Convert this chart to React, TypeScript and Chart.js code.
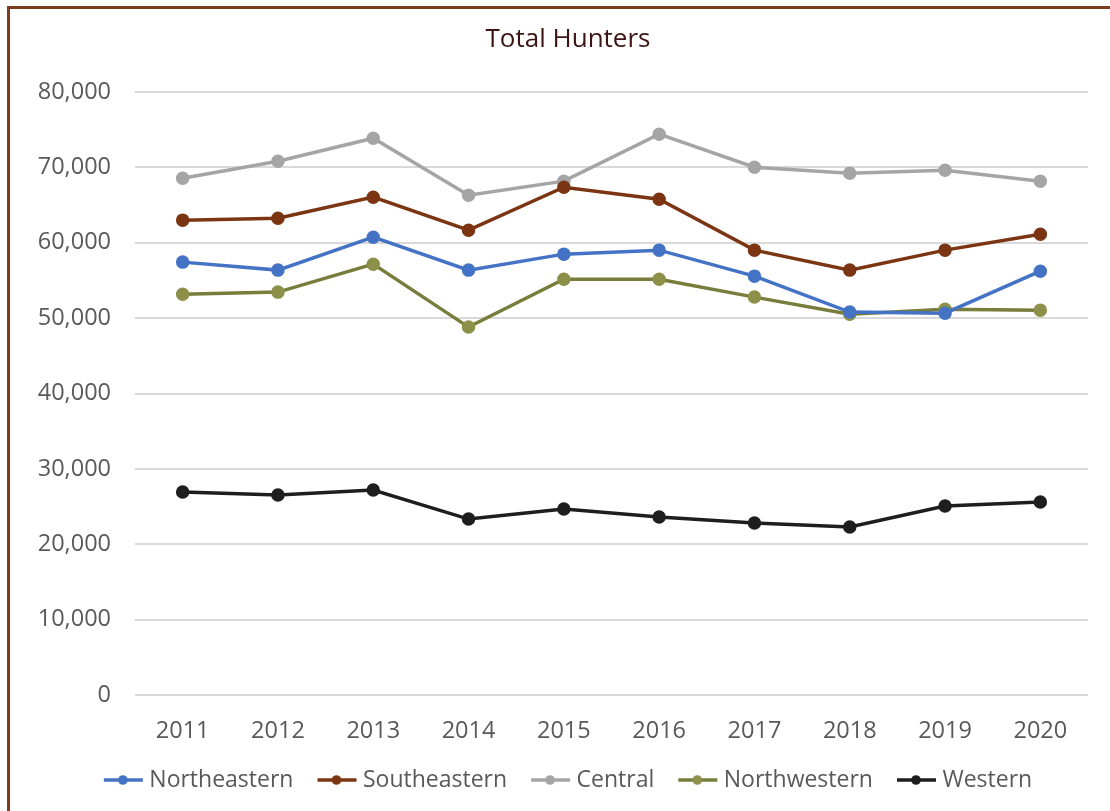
import React, { useEffect, useRef } from "react";
import { Chart, registerables } from "chart.js";

Chart.register(...registerables);

const years = ["2011", "2012", "2013", "2014", "2015", "2016", "2017", "2018", "2019", "2020"];
const northeastern = [57430, 56370, 60740, 56370, 58490, 59020, 55570, 50800, 50660, 56230];
const southeastern = [63000, 63260, 66050, 61670, 67370, 65780, 59020, 56370, 59020, 61140];
const central = [68570, 70820, 73870, 66310, 68170, 74400, 70030, 69230, 69630, 68170];
const northwestern = [53180, 53450, 57160, 48810, 55170, 55170, 52790, 50530, 51190, 51060];
const western = [26920, 26530, 27190, 23340, 24670, 23610, 22810, 22280, 25070, 25600];

const seriesNames = ["Northeastern", "Southeastern", "Central", "Northwestern", "Western"];
const seriesColors = ["#4472C4", "#7B3512", "#A5A5A5", "#787D3C", "#1E1E1E"];
const markerColors = ["#4472C4", "#7B3512", "#A5A5A5", "#8C9049", "#1E1E1E"];
const titleText = "Total Hunters";

const LEGEND_FONT = 23;
const LEGEND_PAD = 28;

function makeLegendMarker(line: string, dot: string): HTMLCanvasElement {
  const c = document.createElement("canvas");
  c.width = 44;
  c.height = 12;
  const ctx = c.getContext("2d")!;
  ctx.strokeStyle = line;
  ctx.lineWidth = 3.5;
  ctx.beginPath();
  ctx.moveTo(3, 6);
  ctx.lineTo(42, 6);
  ctx.stroke();
  ctx.fillStyle = dot;
  ctx.beginPath();
  ctx.arc(22, 6, 4.8, 0, Math.PI * 2);
  ctx.fill();
  return c;
}

const titlePlugin = {
  id: "customTitle",
  afterLayout(chart: any) {
    const lg = chart.legend;
    if (lg) {
      lg.left = 52;
      lg.right = 1088;
      lg.top = 780 - LEGEND_PAD - LEGEND_FONT / 2;
    }
  },
  afterDraw(chart: any) {
    const ctx = chart.ctx;
    ctx.save();
    ctx.font = "26px 'Open Sans'";
    ctx.fillStyle = "#3D1414";
    ctx.textAlign = "center";
    ctx.textBaseline = "middle";
    ctx.fillText(titleText, 568, 40);
    ctx.restore();
  },
};

export default function App() {
  const ref = useRef<HTMLCanvasElement | null>(null);
  useEffect(() => {
    if (!ref.current) return;
    const data = [northeastern, southeastern, central, northwestern, western];
    const markers = seriesColors.map((c, i) => makeLegendMarker(c, markerColors[i]));
    const chart = new Chart(ref.current, {
      type: "line",
      data: {
        labels: years,
        datasets: data.map((d, i) => ({
          label: seriesNames[i],
          data: d,
          borderColor: seriesColors[i],
          backgroundColor: markerColors[i],
          pointBackgroundColor: markerColors[i],
          pointBorderColor: markerColors[i],
          borderWidth: 3.5,
          pointRadius: 5,
          pointHoverRadius: 5,
          tension: 0,
        })),
      },
      options: {
        animation: false,
        responsive: false,
        maintainAspectRatio: false,
        layout: { padding: { left: 0, right: 22, top: 92, bottom: 5 } },
        scales: {
          x: {
            offset: true,
            grid: { display: false, drawTicks: false },
            border: { display: false },
            ticks: { color: "#595959", font: { family: "'Open Sans'", size: 23.5 }, padding: 22 },
            afterFit(scale: any) {
              scale.height = 50;
            },
          },
          y: {
            min: 0,
            max: 80000,
            grid: { color: "#D9D9D9", lineWidth: 2, drawTicks: false },
            border: { display: false },
            ticks: {
              stepSize: 10000,
              color: "#595959",
              font: { family: "'Open Sans'", size: 23.5 },
              padding: 24,
              callback: (v: any) => Number(v).toLocaleString("en-US"),
            },
            afterFit(scale: any) {
              scale.width = 135;
            },
          },
        },
        plugins: {
          title: { display: false },
          tooltip: { enabled: false },
          legend: {
            position: "bottom",
            labels: {
              usePointStyle: true,
              pointStyleWidth: 30,
              padding: LEGEND_PAD,
              color: "#595959",
              font: { family: "'Open Sans'", size: LEGEND_FONT },
              generateLabels(ch: any) {
                const items = Chart.defaults.plugins.legend.labels.generateLabels(ch);
                items.forEach((it: any, i: number) => {
                  it.pointStyle = markers[i];
                });
                return items;
              },
            },
          },
        },
      },
      plugins: [titlePlugin],
    });
    return () => chart.destroy();
  }, []);
  return (
    <div style={{ position: "fixed", left: 0, top: 0, width: 1110, height: 811, background: "#fff" }}>
      <canvas ref={ref} width={1110} height={811} style={{ position: "absolute", left: 0, top: 0 }} />
      <div
        style={{
          position: "absolute",
          left: 7,
          top: 6,
          width: 1110,
          height: 811,
          borderTop: "3px solid #7A3E1E",
          borderLeft: "3px solid #7A3E1E",
          pointerEvents: "none",
        }}
      />
    </div>
  );
}
